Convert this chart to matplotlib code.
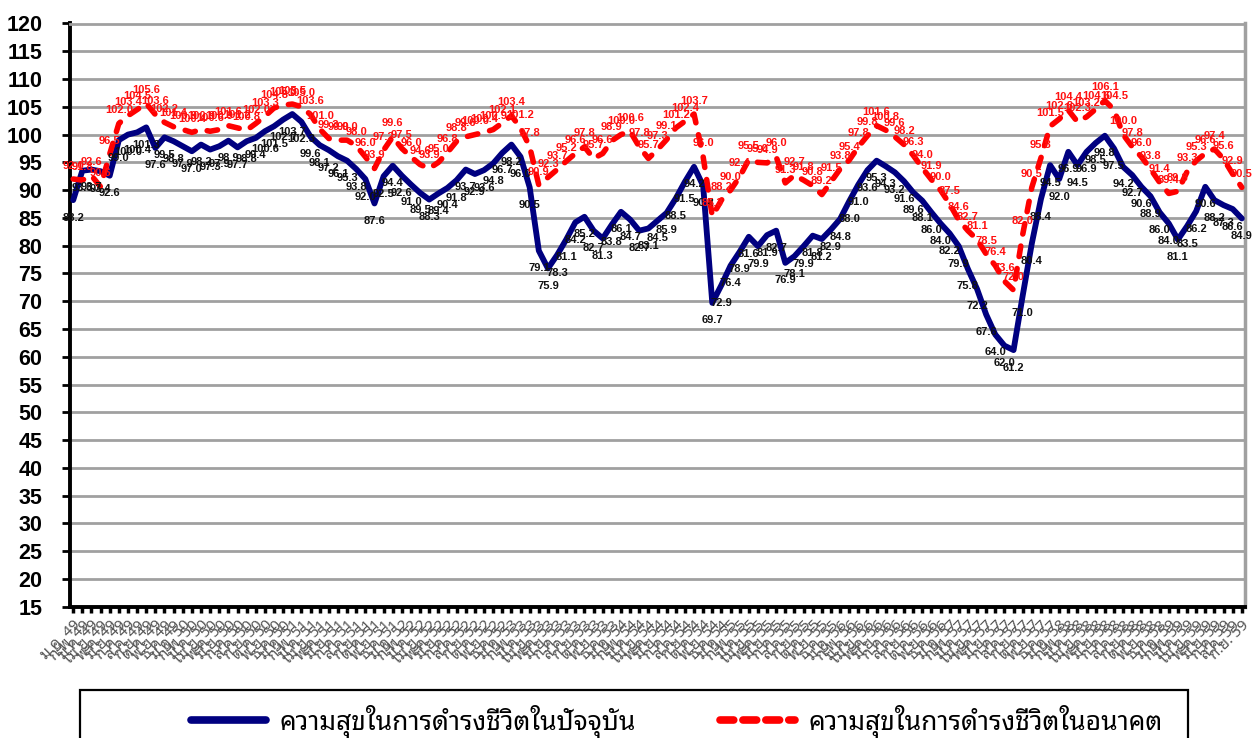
import matplotlib
matplotlib.use('Agg')
import matplotlib.pyplot as plt
from matplotlib import font_manager
from matplotlib.lines import Line2D
from matplotlib.patches import Rectangle
import numpy as np

# pick an installed font that has Thai glyphs
_names = {f.name for f in font_manager.fontManager.ttflist}
THAI = next((n for n in ['Noto Sans Thai Looped', 'IBM Plex Sans Thai Looped', 'Sarabun',
                         'Noto Sans Thai', 'Anuphan', 'Athiti'] if n in _names), 'DejaVu Sans')

# -------------------------------------------------------------
# data

current = [88.2, 93.5, 93.7, 93.4, 92.6, 99.0, 100.0, 100.4, 101.3, 97.6,
           99.5, 98.8, 97.9, 97.0, 98.2, 97.3, 97.9, 98.9, 97.7, 98.8,
           99.4, 100.6, 101.5, 102.7, 103.7, 102.3, 99.6, 98.1, 97.2, 96.1,
           95.3, 93.8, 92.0, 87.6, 92.5, 94.4, 92.6, 91.0, 89.5, 88.3,
           89.4, 90.4, 91.8, 93.7, 92.9, 93.6, 94.8, 96.7, 98.2, 96.0,
           90.5, 79.1, 75.9, 78.3, 81.1, 84.2, 85.2, 82.7, 81.3, 83.8,
           86.1, 84.7, 82.7, 83.1, 84.5, 85.9, 88.5, 91.5, 94.2, 90.8,
           69.7, 72.9, 76.4, 78.9, 81.6, 79.9, 81.9, 82.7, 76.9, 78.1,
           79.9, 81.8, 81.2, 82.9, 84.8, 88.0, 91.0, 93.6, 95.3, 94.3,
           93.2, 91.6, 89.6, 88.1, 86.0, 84.0, 82.2, 79.9, 75.8, 72.2,
           67.6, 64.0, 62.0, 61.2, 71.0, 80.4, 88.4, 94.5, 92.0, 96.9,
           94.5, 96.9, 98.5, 99.8, 97.5, 94.2, 92.7, 90.6, 88.9, 86.0,
           84.0, 81.1, 83.5, 86.2, 90.6, 88.2, 87.3, 86.6, 84.9]

future = [92.0, 91.8, 92.6, 90.6, 96.5, 102.0, 103.4, 104.5, 105.6, 103.6,
          102.2, 101.4, 100.9, 100.4, 100.9, 100.6, 100.9, 101.6, 101.2, 100.8,
          102.0, 103.3, 104.8, 105.3, 105.5, 105.0, 103.6, 101.0, 99.3, 99.0,
          99.0, 98.0, 96.0, 93.9, 97.2, 99.6, 97.5, 96.0, 94.6, 93.9,
          95.0, 96.8, 98.8, 99.6, 100.0, 100.4, 100.9, 102.1, 103.4, 101.2,
          97.8, 90.9, 92.3, 93.7, 95.2, 96.6, 97.8, 95.7, 96.6, 98.9,
          100.0, 100.6, 97.8, 95.7, 97.3, 99.1, 101.2, 102.4, 103.7, 96.0,
          85.3, 88.2, 90.0, 92.4, 95.5, 95.0, 94.9, 96.0, 91.3, 92.7,
          91.8, 90.8, 89.2, 91.5, 93.8, 95.4, 97.8, 99.8, 101.6, 100.8,
          99.6, 98.2, 96.3, 94.0, 91.9, 90.0, 87.5, 84.6, 82.7, 81.1,
          78.5, 76.4, 73.6, 72.0, 82.0, 90.5, 95.8, 101.5, 102.8, 104.4,
          102.3, 103.2, 104.6, 106.1, 104.5, 100.0, 97.8, 96.0, 93.8, 91.4,
          89.4, 89.8, 93.3, 95.3, 96.6, 97.4, 95.6, 92.9, 90.5]

MONTHS_TH = ['ม.ค.', 'ก.พ.', 'มี.ค.', 'เม.ย.', 'พ.ค.', 'มิ.ย.',
             'ก.ค.', 'ส.ค.', 'ก.ย.', 'ต.ค.', 'พ.ย.', 'ธ.ค.']
FIRST_YEAR = 49
months = ['%s %d' % (MONTHS_TH[i % 12], FIRST_YEAR + i // 12) for i in range(len(current))]

LABEL_NOW = 'ความสุขในการดำรงชีวิตในปัจจุบัน'
LABEL_FUTURE = 'ความสุขในการดำรงชีวิตในอนาคต'

# -------------------------------------------------------------

fig = plt.figure(figsize=(12.53, 7.38), dpi=100)
ax = fig.add_axes([70/1253, 1 - 606.7/738, 1175/1253, (606.7 - 23.5)/738])

x = np.arange(len(current))

ax.plot(x, current, color='#000080', lw=4.2, solid_capstyle='round',
        solid_joinstyle='round', zorder=3)
ax.plot(x, future, color='#ff0000', lw=4.0, linestyle=(0, (1.9, 2.2)),
        dash_capstyle='round', solid_joinstyle='round', zorder=3)

for xi, v in zip(x, current):
    ax.annotate('%.1f' % v, (xi, v), xytext=(0, -9), textcoords='offset points',
                ha='center', va='top', fontsize=8, fontweight='bold',
                color='#111111', family='Liberation Sans', zorder=4)
for xi, v in zip(x, future):
    ax.annotate('%.1f' % v, (xi, v), xytext=(0, 6), textcoords='offset points',
                ha='center', va='bottom', fontsize=8, fontweight='bold',
                color='#ff1010', family='Liberation Sans', zorder=4)

ax.set_xlim(-0.35, len(current) - 1 + 0.35)
ax.set_ylim(15, 120)
ax.set_yticks(np.arange(15, 121, 5))
ax.set_xticks(x)
ax.set_xticklabels(months, rotation=45, ha='right', rotation_mode='anchor',
                   fontsize=11, fontweight='bold', color='#555555',
                   family=[THAI, 'DejaVu Sans'])
for lab in ax.get_yticklabels():
    lab.set_family('Liberation Sans')
    lab.set_fontweight('bold')
    lab.set_fontsize(15.5)

ax.yaxis.grid(True, color='#a0a0a0', lw=2.0)
ax.set_axisbelow(True)
ax.tick_params(axis='y', direction='out', length=6, width=2, pad=14)
ax.tick_params(axis='x', direction='out', length=4, width=2.5, pad=4)
ax.spines['left'].set_linewidth(2.8)
ax.spines['bottom'].set_linewidth(2.8)
ax.spines['top'].set_color('#a0a0a0')
ax.spines['top'].set_linewidth(2.0)
ax.spines['right'].set_color('#a0a0a0')
ax.spines['right'].set_linewidth(2.5)

# legend box (cut by the bottom edge, as in the source)
fig.patches.append(Rectangle((80/1253, -0.03), (1188 - 80)/1253, 0.03 + 1 - 690/738,
                             transform=fig.transFigure, fill=False,
                             edgecolor='black', lw=1.6))
handles = [Line2D([], [], color='#000080', lw=5.5, solid_capstyle='round'),
           Line2D([], [], color='#ff0000', lw=5.5, linestyle=(0, (1.8, 1.2)),
                  dash_capstyle='round')]
fig.legend(handles, [LABEL_NOW, LABEL_FUTURE], loc='center left',
           bbox_to_anchor=(167/1253, 1 - 721/738), ncol=2, frameon=False,
           handlelength=2.85, handletextpad=0.5, columnspacing=3.2,
           prop={'family': [THAI, 'DejaVu Sans'], 'size': 19})

fig.savefig('out.png', dpi=100)
